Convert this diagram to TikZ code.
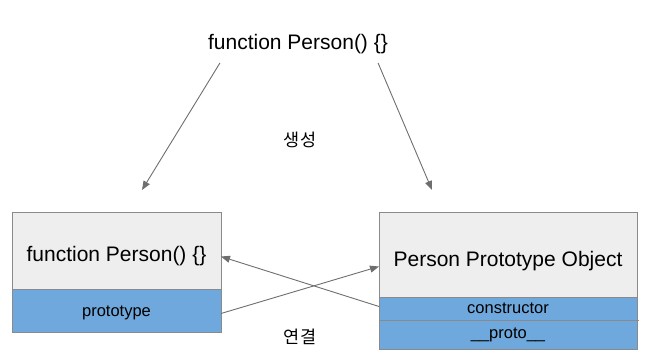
\documentclass[tikz,border=0pt]{standalone}
\usepackage{fontspec}
\setmainfont{Liberation Sans}
\newfontfamily\kor{Noto Sans CJK KR}
\usetikzlibrary{positioning,arrows.meta}
\definecolor{boxgray}{HTML}{EEEEEE}
\definecolor{boxblue}{HTML}{6FA8DC}
\definecolor{edgegray}{HTML}{8A8A8A}
\definecolor{arrowgray}{HTML}{6E6E6E}
\tikzset{
  bigtext/.style={font=\fontsize{21}{25}\selectfont},
  smalltext/.style={font=\fontsize{16.5}{20}\selectfont},
  kortext/.style={font=\kor\fontsize{17.5}{20}\selectfont},
  headbox/.style={draw=edgegray, fill=boxgray, line width=0.8pt, inner sep=0pt, outer sep=0pt, bigtext},
  slotbox/.style={draw=edgegray, fill=boxblue, line width=0.8pt, inner sep=0pt, outer sep=0pt, smalltext},
  arr/.style={draw=arrowgray, line width=0.9pt, -{Triangle[length=9pt,width=7pt]}}
}
\begin{document}
\begin{tikzpicture}[x=1pt, y=-1pt]
\useasboundingbox (0,0) rectangle (653,358);

% --- Constructor (top) ---
\node[bigtext, inner sep=0pt] (title) at (298,44) {function Person() \{\}};
\node[kortext] (genlabel) at (300,140) {생성};
\coordinate (genL) at (142,190);
\coordinate (genR) at (432,190);
\draw[arr] ([xshift=12pt,yshift=-9pt]title.south west) -- (genL);
\draw[arr] ([xshift=-10pt,yshift=-9pt]title.south east) -- (genR);

% --- Function object (left) ---
\node[headbox, minimum width=209pt, minimum height=77pt, text height=21pt, text depth=0pt] (fnbox) at (116.5,250.5) {function Person() \{\}};
\node[slotbox, minimum width=209pt, minimum height=43pt, text height=12.5pt, text depth=0pt, below=0pt of fnbox] (protoslot) {prototype};

% --- Prototype object (right) ---
\node[headbox, minimum width=258pt, minimum height=85pt, text height=23pt, text depth=0pt] (objbox) at (508,254.5) {Person Prototype Object};
\node[slotbox, minimum width=258pt, minimum height=23pt, below=0pt of objbox] (ctorslot) {constructor};
\node[slotbox, minimum width=258pt, minimum height=29pt, below=0pt of ctorslot] (linkslot) {\_\_proto\_\_};
\draw[edgegray, line width=0.8pt] (ctorslot.south east) -- ++(2,0);

% --- Links ---
\draw[arr] ([yshift=-3pt]protoslot.east) -- ([yshift=-12pt]objbox.west);
\draw[arr] ([yshift=2pt]ctorslot.west) -- ([yshift=-6pt]fnbox.east);
\node[kortext] (linklabel) at (300,337) {연결};

\end{tikzpicture}
\end{document}
